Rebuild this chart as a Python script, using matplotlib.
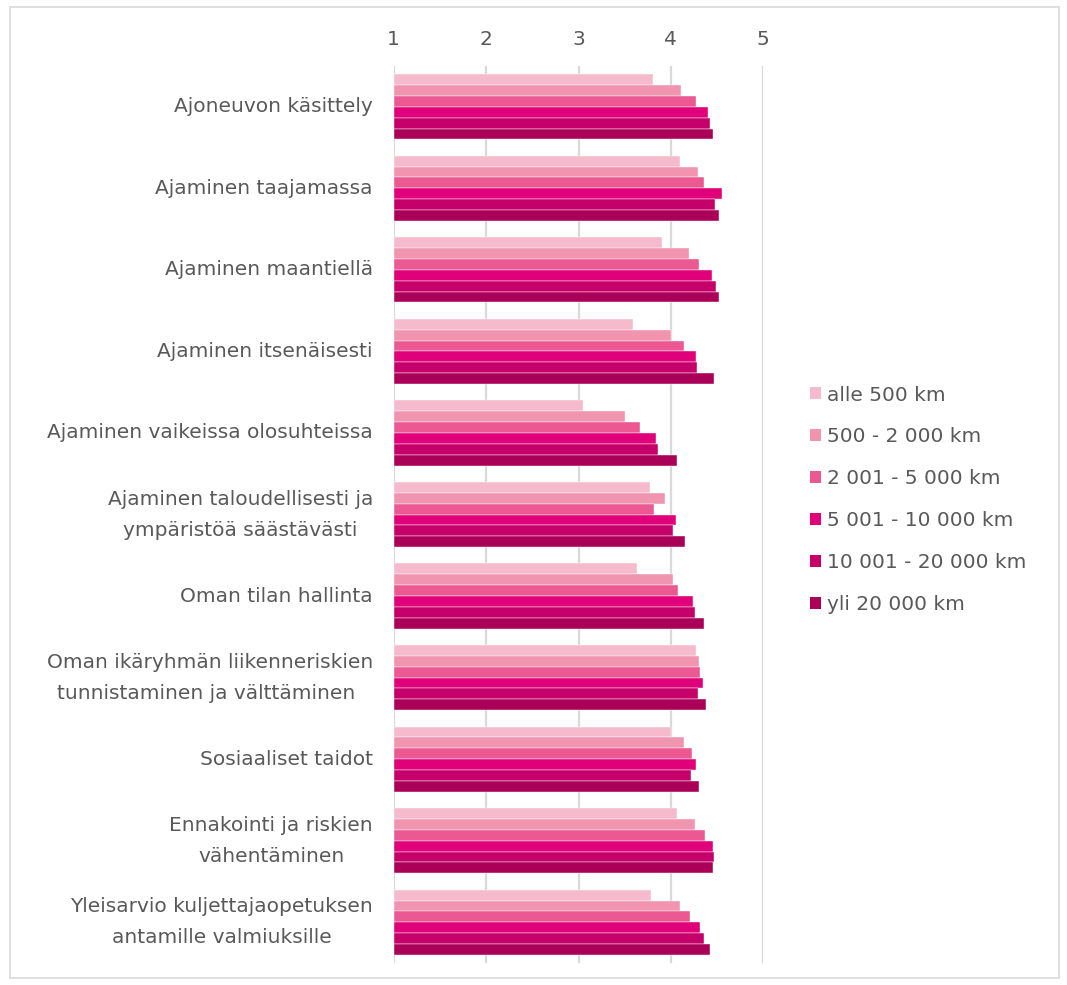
import matplotlib.pyplot as plt
import numpy as np
from matplotlib.patches import Rectangle

categories = [
    "Ajoneuvon käsittely",
    "Ajaminen taajamassa",
    "Ajaminen maantiellä",
    "Ajaminen itsenäisesti",
    "Ajaminen vaikeissa olosuhteissa",
    "Ajaminen taloudellisesti ja\nympäristöä säästävästi",
    "Oman tilan hallinta",
    "Oman ikäryhmän liikenneriskien\ntunnistaminen ja välttäminen ",
    "Sosiaaliset taidot",
    "Ennakointi ja riskien\nvähentäminen",
    "Yleisarvio kuljettajaopetuksen\nantamille valmiuksille",
]

series_names = [
    "alle 500 km",
    "500 - 2 000 km",
    "2 001 - 5 000 km",
    "5 001 - 10 000 km",
    "10 001 - 20 000 km",
    "yli 20 000 km",
]

alle_500 = [3.81, 4.10, 3.90, 3.59, 3.05, 3.77, 3.63, 4.27, 4.00, 4.07, 3.78]
km_500_2000 = [4.11, 4.29, 4.20, 4.00, 3.50, 3.94, 4.02, 4.30, 4.14, 4.26, 4.10]
km_2001_5000 = [4.27, 4.36, 4.30, 4.14, 3.66, 3.82, 4.08, 4.32, 4.23, 4.37, 4.21]
km_5001_10000 = [4.40, 4.55, 4.44, 4.27, 3.84, 4.06, 4.24, 4.35, 4.27, 4.45, 4.31]
km_10001_20000 = [4.42, 4.48, 4.49, 4.28, 3.86, 4.02, 4.26, 4.29, 4.22, 4.47, 4.36]
yli_20000 = [4.46, 4.52, 4.52, 4.47, 4.07, 4.15, 4.36, 4.38, 4.30, 4.46, 4.42]

series = [alle_500, km_500_2000, km_2001_5000, km_5001_10000, km_10001_20000, yli_20000]
colors = ["#F5BACB", "#F094B0", "#EC5892", "#E0007A", "#C6006A", "#AB0058"]

text_color = "#595959"
grid_color = "#D9D9D9"
fs = 14.5

fig = plt.figure(figsize=(10.67, 9.85), dpi=100)
ax = fig.add_axes([0.369, 0.0223, 0.3464, 0.9107])

n = len(series)
group_h = 0.8
bar_h = group_h / n
y = np.arange(len(categories))

for i, (vals, col) in enumerate(zip(series, colors)):
    offs = -group_h / 2 + bar_h * (i + 0.5)
    ax.barh(y + offs, np.array(vals) - 1, left=1, height=bar_h, color=col,
            edgecolor="white", linewidth=0.3, label=series_names[i], zorder=2)

ax.set_xlim(1, 5)
ax.set_ylim(len(categories) - 0.5, -0.5)
ax.xaxis.tick_top()
ax.set_xticks([1, 2, 3, 4, 5])
ax.tick_params(axis="x", length=0, pad=12, labelsize=fs, labelcolor=text_color)
ax.set_yticks(y)
ax.set_yticklabels(categories, fontsize=fs, color=text_color,
                   multialignment="center", linespacing=1.8, va="center")
ax.tick_params(axis="y", length=0, pad=15)
ax.grid(axis="x", color=grid_color, linewidth=1.6, zorder=0)
ax.set_axisbelow(True)
for sp in ax.spines.values():
    sp.set_visible(False)

leg = fig.legend(loc="upper left", bbox_to_anchor=(0.7425, 0.627), frameon=False,
                 fontsize=fs, handlelength=0.55, handleheight=0.55,
                 handletextpad=0.3, labelspacing=1.14, labelcolor=text_color)
for h in leg.legend_handles:
    h.set_edgecolor("none")

# light frame around the whole chart
fig.patches.append(Rectangle((9.5 / 1067, 7 / 985), 1049 / 1067, 971 / 985,
                             transform=fig.transFigure, fill=False,
                             edgecolor=grid_color, linewidth=1.2))

fig.savefig("out.png", dpi=100)
